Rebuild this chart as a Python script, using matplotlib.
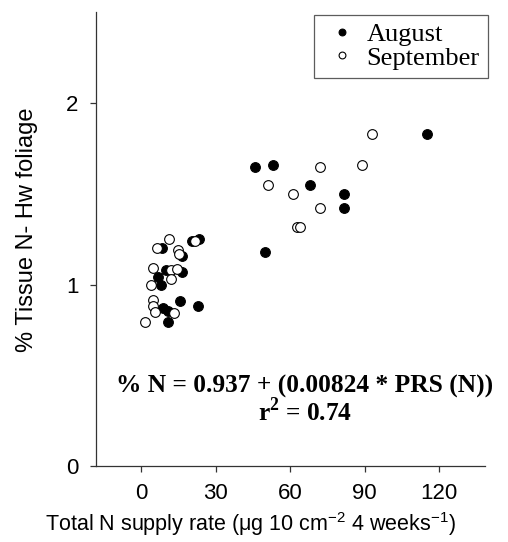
import matplotlib
matplotlib.use("Agg")
import matplotlib.pyplot as plt

plt.rcParams['font.family'] = ['Liberation Sans', 'DejaVu Sans']
plt.rcParams['mathtext.fontset'] = 'custom'
plt.rcParams['mathtext.rm'] = 'Liberation Sans'
plt.rcParams['mathtext.bf'] = 'Liberation Serif:bold'

# August (filled) - supply rate vs tissue N
aug_x = [20.4, 23.2, 8.3, 16.4, 10.1, 16.4, 7.0, 7.9, 15.7, 23.1, 9.0, 10.7, 11.0,
         115.2, 46.0, 53.0, 68.1, 81.9, 81.9, 50.0]
aug_y = [1.24, 1.25, 1.20, 1.16, 1.08, 1.07, 1.04, 1.00, 0.91, 0.88, 0.87, 0.855, 0.795,
         1.83, 1.65, 1.66, 1.55, 1.50, 1.42, 1.18]

# September (open)
sep_x = [11.4, 21.8, 6.3, 15.0, 15.4, 5.0, 11.9, 14.4, 12.0, 3.9, 4.7, 5.0, 5.6, 13.4, 1.6,
         93.1, 72.1, 89.0, 51.0, 61.1, 72.1, 62.8, 64.0]
sep_y = [1.25, 1.24, 1.20, 1.19, 1.17, 1.09, 1.08, 1.085, 1.03, 1.00, 0.915, 0.88, 0.85, 0.845, 0.795,
         1.83, 1.65, 1.66, 1.55, 1.50, 1.42, 1.32, 1.32]

xticks = [0, 30, 60, 90, 120]
yticks = [0, 1, 2]

fig = plt.figure(figsize=(5.08, 5.42), dpi=100)
ax = fig.add_axes([0.189, 0.140, 0.766, 0.837])

ax.plot(aug_x, aug_y, 'o', ms=7, mfc='black', mec='black', mew=0.8, label='August')
ax.plot(sep_x, sep_y, 'o', ms=7, mfc='white', mec='black', mew=0.8, label='September')

ax.set_xlim(-18.1, 138.5)
ax.set_ylim(0, 2.5)
ax.set_xticks(xticks)
ax.set_yticks(yticks)
for s in ['top', 'right']:
    ax.spines[s].set_visible(False)
for s in ['left', 'bottom']:
    ax.spines[s].set_color('#333333')
    ax.spines[s].set_linewidth(0.9)
ax.tick_params(direction='out', length=4.5, width=0.9, color='#333333', labelsize=16, pad=8)

ax.set_xlabel('Total N supply rate (\u03bcg 10 cm$^{-2}$ 4 weeks$^{-1}$)', fontsize=15.5)
ax.xaxis.set_label_coords(0.398, -0.096)
ax.set_ylabel('% Tissue N- Hw foliage', fontsize=17)
ax.yaxis.set_label_coords(-0.15, 0.52)

ax.text(0.537, 0.176, '% N = 0.937 + (0.00824 * PRS (N))', transform=ax.transAxes,
        ha='center', va='center', fontsize=18.3, fontweight='bold', family='Liberation Serif')
ax.text(0.537, 0.12, 'r$^{\\mathbf{2}}$ = 0.74', transform=ax.transAxes,
        ha='center', va='center', fontsize=18.3, fontweight='bold', family='Liberation Serif')

leg = ax.legend(loc='upper left', bbox_to_anchor=(0.56, 0.995), borderaxespad=0,
                frameon=True, fancybox=False,
                markerscale=0.7, handletextpad=0.2, handlelength=1.5, borderpad=0.3,
                labelspacing=0.0, prop={'family': 'Liberation Serif', 'size': 19})
leg.get_frame().set_edgecolor('#333333')
leg.get_frame().set_linewidth(0.9)

fig.savefig('out.png', dpi=100)
